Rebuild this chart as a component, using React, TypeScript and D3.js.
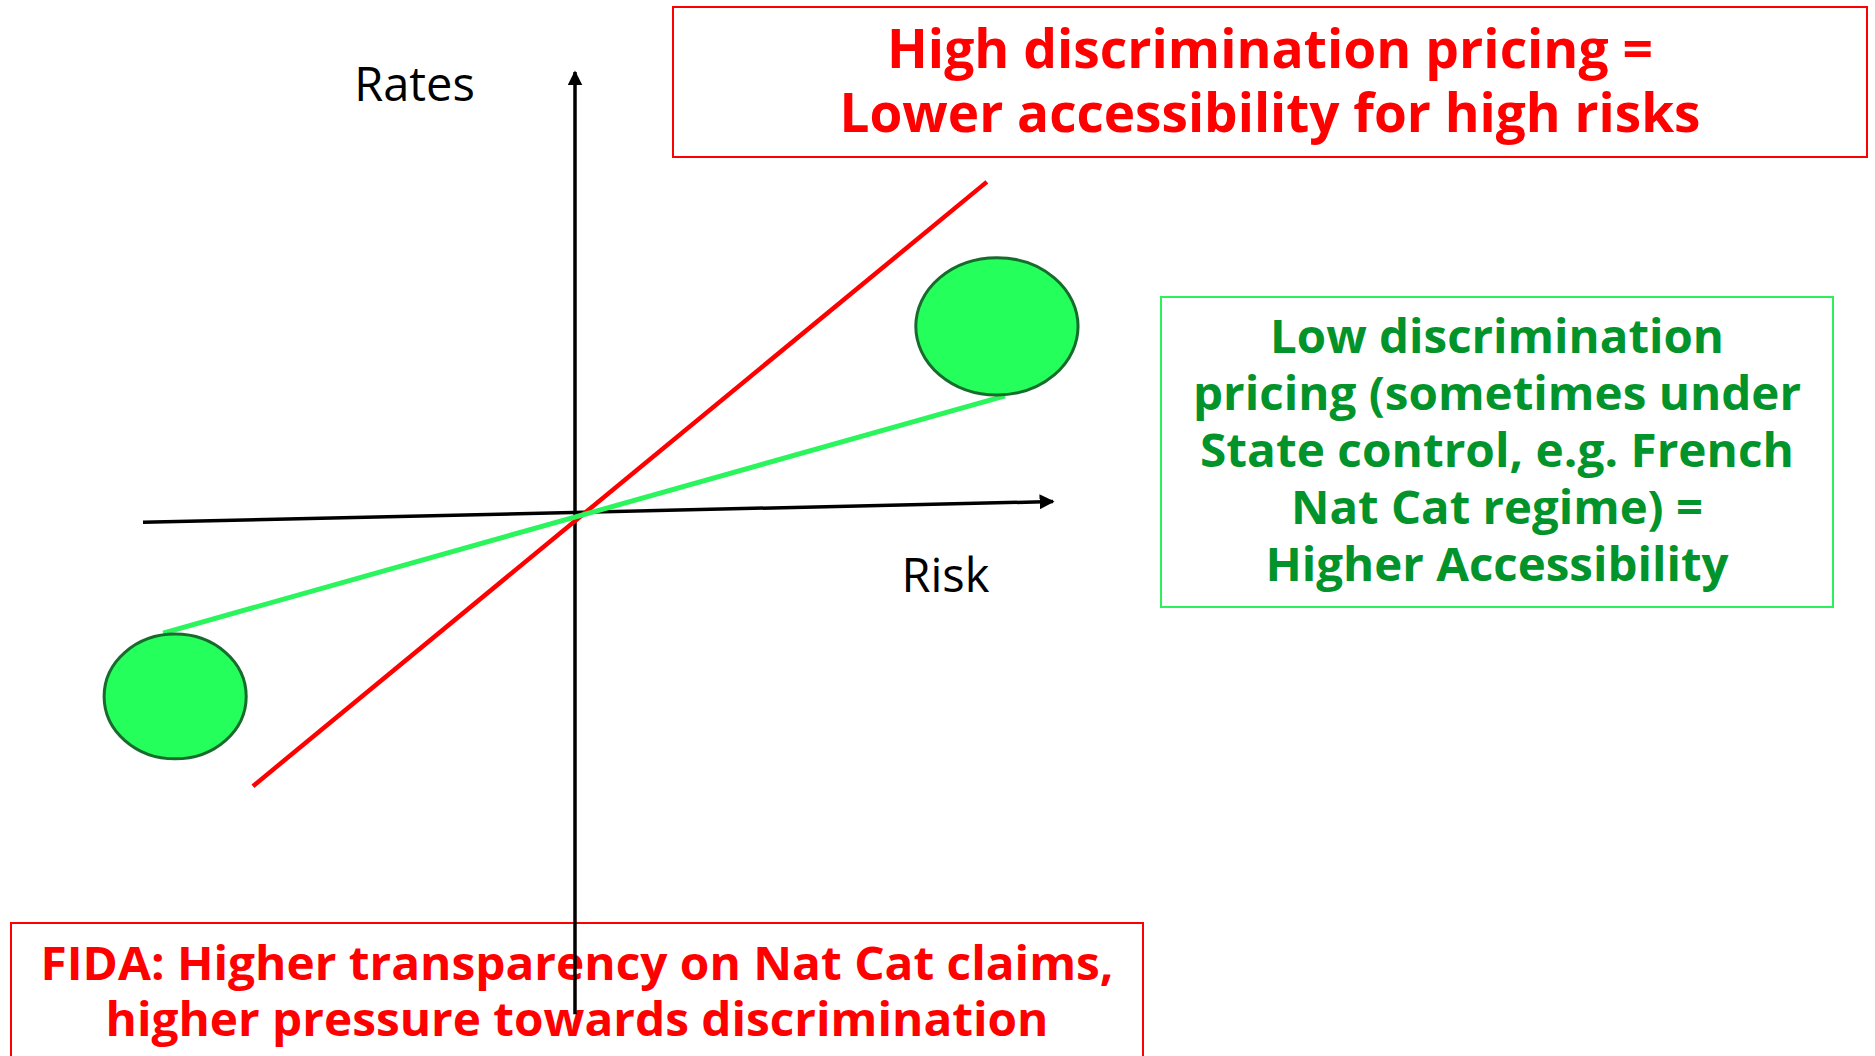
import React from 'react';
import * as d3 from 'd3';

// diagram values, in abstract "risk / rate" units around the origin
const axis_x = [[-9.0, -0.15], [9.96, 0.28]];
const axis_y = [[0, -10.4], [0, 9.23]];
const high_discrimination = [[-6.71, -5.65], [8.58, 6.94]];
const low_discrimination = [[-8.58, -2.46], [8.96, 2.48]];
const risk_groups = [
  {cx: -8.33, cy: -3.78, rx: 1.48, ry: 1.3},
  {cx: 8.79, cy: 3.93, rx: 1.69, ry: 1.43},
];
const axis_labels = [
  {text: 'Rates', x: -4.6, y: 8.63},
  {text: 'Risk', x: 6.8, y: -1.6},
];

const top_lines = ['High discrimination pricing =', 'Lower accessibility for high risks'];
const green_lines = [
  'Low discrimination',
  'pricing (sometimes under',
  'State control, e.g. French',
  'Nat Cat regime) =',
  'Higher Accessibility',
];
const bottom_lines = ['FIDA: Higher transparency on Nat Cat claims,', 'higher pressure towards discrimination'];

const W = 1875;
const H = 1056;
const FONT = '"Open Sans", "Noto Sans", sans-serif';

// callout boxes (layout)
const boxes = [
  {lines: top_lines, x: 673, y: 7, w: 1194, h: 150, stroke: '#ff0000', color: '#ff0000',
    size: 53, first: 68, step: 64, widths: [766, 861]},
  {lines: green_lines, x: 1161, y: 297, w: 672, h: 310, stroke: '#2ef05c', color: '#02932a',
    size: 47, first: 353, step: 57, widths: [454, 608, 594, 412, 463]},
  {lines: bottom_lines, x: 11, y: 923, w: 1132, h: 160, stroke: '#ff0000', color: '#ff0000',
    size: 47, first: 980, step: 56, widths: [1073, 943]},
];

export default function App() {
  const x = d3.scaleLinear().domain([-10, 10]).range([95, 1055]);
  const y = d3.scaleLinear().domain([-10, 10]).range([995, 35]);
  const line = d3.line<number[]>().x(d => x(d[0])).y(d => y(d[1]));

  return (
    <svg width={W} height={H} style={{display: 'block', position: 'absolute', left: 0, top: 0, background: '#fff'}}>
      <defs>
        <marker id='arrow' viewBox='0 0 10 10' refX='9' refY='5' markerUnits='userSpaceOnUse'
          markerWidth='15' markerHeight='15' orient='auto'>
          <path d='M0,0 L10,5 L0,10 z' fill='#000' />
        </marker>
      </defs>

      {boxes.map((b, i) => (
        <g key={i}>
          <rect x={b.x} y={b.y} width={b.w} height={b.h} fill='none' stroke={b.stroke} strokeWidth={2} />
          {b.lines.map((t, j) => (
            <text key={j} x={b.x + b.w / 2} y={b.first + j * b.step} textAnchor='middle'
              fontFamily={FONT} fontWeight={700} fontSize={b.size} fill={b.color}
              textLength={b.widths[j]} lengthAdjust='spacingAndGlyphs'>{t}</text>
          ))}
        </g>
      ))}

      {/* axes */}
      <path d={line(axis_x) || ''} stroke='#000' strokeWidth={3.5} fill='none' markerEnd='url(#arrow)' />
      <path d={line(axis_y) || ''} stroke='#000' strokeWidth={3.5} fill='none' markerEnd='url(#arrow)' />

      {/* pricing lines */}
      <path d={line(high_discrimination) || ''} stroke='#ff0000' strokeWidth={4.5} fill='none' />
      <path d={line(low_discrimination) || ''} stroke='#2af55c' strokeWidth={5} fill='none' />

      {risk_groups.map((g, i) => (
        <ellipse key={i} cx={x(g.cx)} cy={y(g.cy)} rx={x(g.rx) - x(0)} ry={y(0) - y(g.ry)}
          fill='#24ff5c' stroke='#176b2c' strokeWidth={3} />
      ))}

      {axis_labels.map((l, i) => (
        <text key={i} x={x(l.x)} y={y(l.y)} fontFamily={FONT} fontSize={47} fill='#000'>{l.text}</text>
      ))}
    </svg>
  );
}
